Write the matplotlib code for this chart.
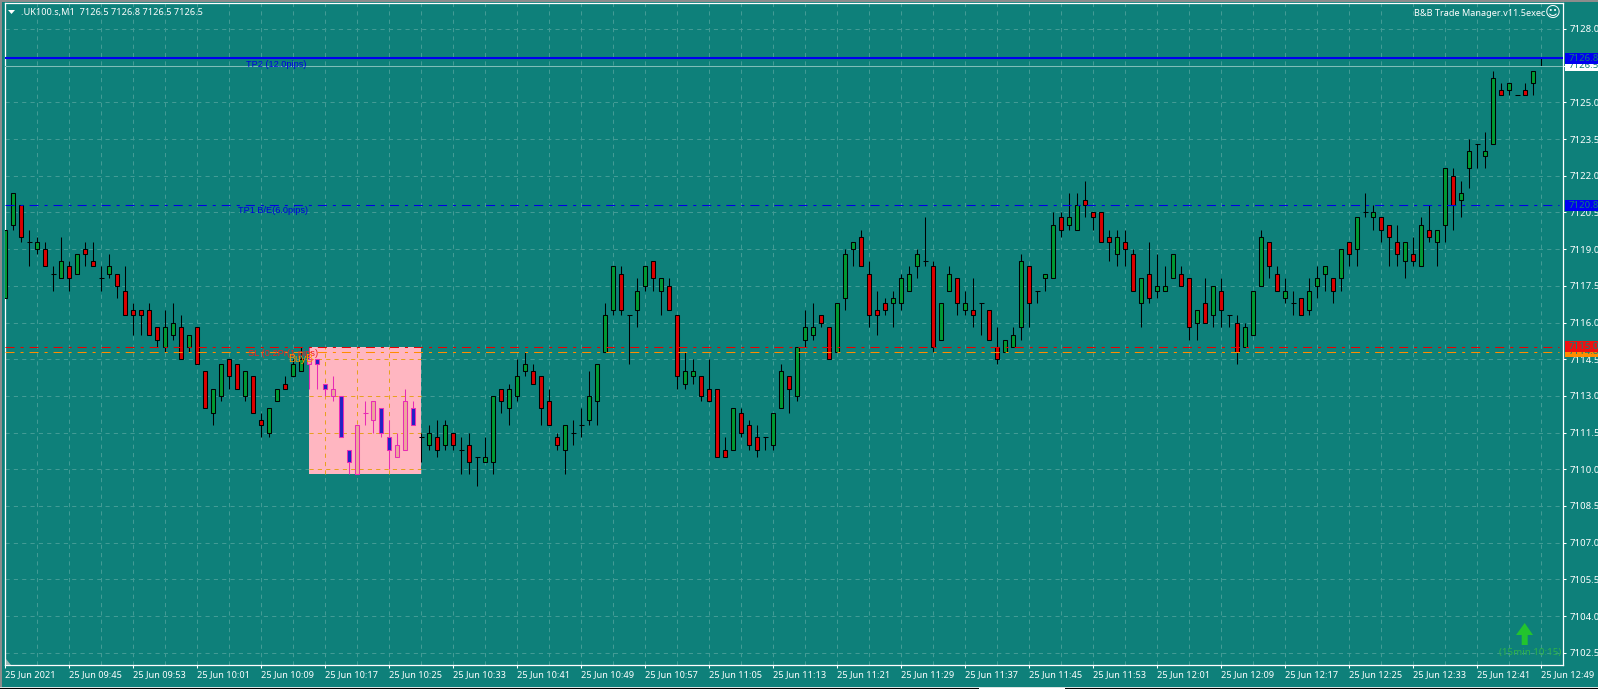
import matplotlib
matplotlib.use('Agg')
import matplotlib.pyplot as plt
from matplotlib.patches import Polygon, Rectangle

# candles, one per minute
opens = [7117.0,7120.0,7120.8,7119.3,7119.0,7119.0,7118.0,7117.8,7118.3,7118.0,7119.0,7118.5,7117.8,7118.0,7118.0,7117.3,
         7116.5,7116.5,7116.5,7115.8,7115.0,7115.5,7115.8,7115.0,7115.8,7114.0,7112.3,7113.0,7114.5,7114.3,7113.0,7113.8,
         7112.0,7111.5,7112.8,7113.5,7113.8,7114.0,7114.3,7114.5,7113.5,7113.0,7113.0,7110.8,7109.8,7112.3,7112.0,7112.5,
         7111.3,7110.5,7110.8,7112.5,7111.3,7111.0,7111.3,7111.0,7111.5,7110.8,7111.0,7110.5,7110.3,7110.3,7113.3,7112.5,
         7113.0,7114.0,7114.0,7113.8,7112.8,7111.3,7110.8,7111.5,7111.8,7112.0,7112.8,7114.8,7116.5,7118.0,7116.3,7116.5,
         7117.5,7118.5,7117.3,7117.5,7116.3,7113.5,7113.8,7113.8,7113.3,7113.3,7110.8,7110.8,7112.3,7111.8,7111.3,7111.3,
         7111.0,7112.5,7113.8,7113.0,7115.3,7115.5,7116.3,7115.8,7114.8,7117.0,7119.0,7119.5,7118.0,7116.5,7116.8,7116.8,
         7116.8,7117.3,7118.3,7118.5,7118.3,7115.3,7117.3,7117.8,7116.5,7116.5,7116.8,7116.5,7115.0,7114.8,7115.0,7115.8,
         7118.3,7117.3,7117.8,7117.8,7120.3,7120.0,7119.8,7121.0,7120.5,7120.5,7119.5,7118.8,7119.3,7118.8,7116.8,7118.0,
         7117.3,7117.3,7117.8,7118.0,7117.8,7116.0,7116.8,7116.3,7117.3,7116.3,7116.0,7115.0,7115.5,7117.5,7119.3,7118.0,
         7117.0,7116.8,7117.0,7116.5,7117.5,7118.0,7117.8,7117.8,7119.3,7119.0,7120.5,7120.3,7120.3,7120.0,7119.3,7118.5,
         7118.8,7118.3,7119.8,7119.3,7120.0,7122.0,7121.0,7122.3,7123.3,7122.8,7123.3,7125.5,7125.5,7125.3,7125.5,7125.8,
         7126.5]
highs = [7119.8,7121.3,7120.8,7119.8,7119.5,7119.3,7118.3,7119.5,7118.5,7118.8,7119.3,7119.3,7118.3,7118.8,7118.0,7118.3,
         7116.8,7116.5,7116.8,7115.8,7116.5,7116.8,7116.3,7115.5,7115.8,7114.0,7113.3,7114.3,7114.5,7114.3,7114.0,7113.8,
         7112.3,7112.5,7113.3,7113.8,7114.5,7115.0,7115.0,7114.5,7113.5,7113.8,7113.0,7110.8,7111.8,7112.8,7112.8,7112.5,
         7112.0,7111.5,7113.3,7112.8,7111.5,7111.8,7112.0,7112.0,7111.5,7111.3,7111.5,7110.5,7111.3,7113.0,7113.3,7113.5,
         7114.5,7114.8,7114.3,7113.8,7113.3,7111.5,7111.8,7112.0,7112.5,7114.0,7114.3,7116.8,7118.3,7118.3,7116.3,7117.8,
         7118.3,7118.5,7117.8,7117.8,7116.3,7114.8,7114.5,7113.8,7114.5,7113.3,7111.3,7112.5,7112.5,7112.0,7111.8,7111.3,
         7112.3,7114.3,7113.8,7115.0,7116.5,7116.8,7116.3,7115.8,7116.8,7119.0,7119.3,7119.8,7118.5,7117.3,7117.0,7117.3,
         7118.0,7118.3,7119.0,7120.3,7118.5,7116.8,7118.3,7117.8,7117.3,7117.8,7116.8,7116.5,7115.8,7115.3,7115.8,7118.8,
         7118.3,7117.3,7118.0,7120.5,7120.5,7121.3,7121.3,7121.8,7120.5,7120.5,7119.8,7119.8,7119.8,7119.0,7117.8,7119.3,
         7118.8,7118.3,7118.8,7118.3,7117.8,7116.5,7117.8,7117.5,7117.8,7116.3,7116.3,7116.0,7117.3,7119.8,7119.3,7118.3,
         7117.8,7117.3,7117.0,7117.8,7118.3,7118.3,7117.8,7119.0,7119.3,7120.3,7121.3,7120.8,7120.3,7120.0,7120.0,7119.3,
         7119.5,7120.3,7120.8,7119.8,7122.3,7122.3,7121.8,7123.5,7123.3,7123.8,7126.3,7125.8,7125.8,7125.3,7125.8,7126.3,
         7126.8]
lows = [7117.0,7119.8,7119.3,7118.3,7118.8,7118.3,7117.3,7117.8,7117.3,7118.0,7118.3,7118.3,7117.3,7117.8,7117.0,7116.3,
        7115.5,7115.5,7115.5,7115.0,7114.8,7115.3,7114.5,7114.8,7114.3,7112.5,7111.8,7112.8,7113.3,7113.3,7112.8,7112.3,
        7111.3,7111.3,7112.8,7113.3,7113.8,7114.0,7113.3,7113.3,7113.0,7112.8,7111.3,7109.8,7109.8,7111.8,7111.5,7111.3,
        7110.0,7110.5,7110.8,7111.8,7110.3,7110.8,7110.5,7110.8,7110.8,7109.8,7109.8,7109.3,7110.3,7109.8,7112.3,7111.8,
        7112.8,7113.8,7113.5,7111.8,7111.8,7110.8,7109.8,7111.0,7111.3,7111.8,7111.8,7114.8,7116.3,7116.3,7114.3,7115.8,
        7117.3,7117.3,7116.3,7116.5,7113.3,7113.3,7113.5,7112.8,7112.8,7110.5,7110.5,7110.8,7111.3,7110.8,7110.5,7110.8,
        7110.8,7112.5,7112.3,7112.8,7115.0,7115.3,7115.8,7114.5,7114.8,7116.5,7118.3,7118.3,7115.8,7115.5,7116.3,7115.8,
        7116.5,7117.3,7117.8,7118.3,7114.8,7115.3,7117.3,7116.3,7116.3,7115.8,7115.5,7115.3,7114.3,7114.8,7115.0,7115.3,
        7115.8,7116.8,7117.3,7117.8,7119.5,7119.8,7119.8,7120.3,7119.8,7119.3,7118.5,7118.3,7118.3,7117.3,7115.8,7116.8,
        7117.0,7117.3,7117.8,7117.5,7115.3,7115.3,7116.0,7115.8,7115.8,7115.8,7114.3,7115.0,7115.5,7117.5,7117.8,7117.3,
        7116.8,7116.3,7116.3,7116.3,7117.0,7117.3,7116.8,7117.3,7118.3,7118.3,7120.3,7119.8,7119.3,7118.3,7118.3,7117.8,
        7118.3,7118.3,7119.3,7118.3,7119.3,7119.8,7120.3,7121.5,7122.3,7122.3,7123.3,7125.3,7125.3,7125.3,7125.3,7125.3,
        7126.5]
closes = [7119.8,7121.3,7119.5,7119.3,7119.3,7118.3,7118.0,7118.5,7117.8,7118.8,7118.8,7118.3,7117.8,7118.3,7117.5,7116.3,
          7116.3,7116.3,7115.5,7115.3,7115.8,7116.0,7114.5,7115.5,7114.3,7112.5,7113.3,7114.3,7113.8,7113.3,7114.0,7112.3,
          7111.8,7112.5,7113.3,7113.3,7114.3,7114.5,7114.5,7114.3,7113.3,7113.3,7111.3,7110.3,7111.8,7112.3,7112.8,7111.5,
          7110.8,7111.0,7112.8,7111.8,7111.3,7111.5,7110.8,7111.8,7111.0,7110.8,7110.3,7110.5,7110.5,7113.0,7112.8,7113.3,
          7113.8,7114.3,7113.5,7112.5,7111.8,7111.0,7111.8,7111.5,7111.8,7113.0,7114.3,7116.3,7118.3,7116.5,7116.3,7117.3,
          7118.3,7117.8,7117.8,7116.5,7113.8,7114.0,7114.0,7113.0,7112.8,7110.5,7110.5,7112.5,7111.5,7111.0,7110.8,7111.3,
          7112.3,7114.0,7113.3,7115.0,7115.8,7115.8,7116.0,7114.5,7116.8,7118.8,7119.3,7118.3,7116.3,7116.3,7116.5,7117.0,
          7117.8,7118.0,7118.8,7118.5,7115.0,7116.8,7118.0,7116.8,7116.8,7116.3,7116.8,7115.3,7114.5,7115.3,7115.5,7118.5,
          7116.8,7117.3,7118.0,7120.0,7119.8,7120.3,7120.8,7120.8,7120.3,7119.3,7119.3,7119.5,7119.0,7117.3,7117.8,7117.0,
          7117.5,7117.5,7118.8,7117.5,7115.8,7116.5,7116.0,7117.5,7116.5,7116.3,7114.8,7115.8,7117.3,7119.5,7118.3,7117.3,
          7117.3,7116.8,7116.3,7117.3,7117.8,7118.3,7117.3,7119.0,7118.8,7120.3,7120.5,7120.5,7119.8,7119.5,7118.8,7119.3,
          7118.5,7120.0,7119.5,7119.8,7122.3,7120.8,7121.3,7123.0,7123.3,7123.0,7126.0,7125.3,7125.8,7125.3,7125.3,7126.3,
          7126.5]

time_labels = ['25 Jun 2021', '25 Jun 09:45', '25 Jun 09:53', '25 Jun 10:01', '25 Jun 10:09', '25 Jun 10:17',
               '25 Jun 10:25', '25 Jun 10:33', '25 Jun 10:41', '25 Jun 10:49', '25 Jun 10:57', '25 Jun 11:05',
               '25 Jun 11:13', '25 Jun 11:21', '25 Jun 11:29', '25 Jun 11:37', '25 Jun 11:45', '25 Jun 11:53',
               '25 Jun 12:01', '25 Jun 12:09', '25 Jun 12:17', '25 Jun 12:25', '25 Jun 12:33', '25 Jun 12:41',
               '25 Jun 12:49']
price_ticks = [7102.5, 7104.0, 7105.5, 7107.0, 7108.5, 7110.0, 7111.5, 7113.0, 7114.5, 7116.0, 7117.5, 7119.0,
               7120.5, 7122.0, 7123.5, 7125.0, 7126.5, 7128.0]

tp2_price = 7126.8
bid_price = 7126.5
tp1_price = 7120.8
sl_price = 7115.0
buy_price = 7114.8
zone_start, zone_end = 38, 52
zone_low, zone_high = 7109.8, 7115.0

BG = '#0e807a'
GRID = '#429b95'
GREEN = '#009a33'
RED = '#dc0000'
PINK = '#ffb6c1'
MAGENTA = '#e82cb4'
TAN = '#eda79a'
BLUE = '#2222c4'
ORANGE = '#ff8c00'

plt.rcParams['font.family'] = 'Noto Sans'
plt.rcParams['lines.scale_dashes'] = False

W, H = 1598, 689
fig = plt.figure(figsize=(W / 100, H / 100), dpi=100, facecolor=BG)
ax = fig.add_axes([5 / W, (H - 665) / H, (1563 - 5) / W, (665 - 3) / H], facecolor=BG)

xs = list(range(len(opens)))
ax.set_xlim(-0.04, 194.71)
ax.set_ylim(7102.0, 7129.06)

# grid sits under everything
grid_style = dict(color=GRID, lw=0.72, ls=(0, (3, 3)), zorder=1)
for p in price_ticks:
    ax.axhline(p, **grid_style)
for i in range(4, 196, 4):
    ax.axvline(i, **grid_style)

# highlighted zone, the terminal inverts whatever is drawn under it
ax.add_patch(Rectangle((zone_start, zone_low), zone_end - zone_start, zone_high - zone_low,
                       facecolor=PINK, edgecolor='none', zorder=2))
for p in price_ticks:
    if zone_low < p < zone_high:
        ax.hlines(p, zone_start, zone_end, color='#e8a020', lw=0.72, ls=(0, (3, 3)), zorder=2.5)
for i in range(zone_start + 2, zone_end, 4):
    ax.vlines(i, zone_low, zone_high, color='#e8a020', lw=0.72, ls=(0, (3, 3)), zorder=2.5)

# candles
for i, o, h, l, c in zip(xs, opens, highs, lows, closes):
    inside = zone_start <= i < zone_end
    edge = MAGENTA if inside else 'black'
    if c > o:
        face = TAN if inside else GREEN
    else:
        face = BLUE if inside else RED
    ax.vlines(i, l, h, color=edge, lw=0.75, zorder=3)
    if o == c:
        ax.hlines(o, i - 0.31, i + 0.31, color=edge, lw=0.75, zorder=3)
    else:
        ax.bar(i, abs(c - o), bottom=min(o, c), width=0.5, facecolor=face, edgecolor=edge, linewidth=0.75, zorder=4)

# trade levels
dash = (0, (6.5, 4.3, 2.2, 4.3))
right_end = 194.2
ax.plot([-0.04, right_end], [tp1_price] * 2, color='#0000e6', lw=0.75, ls=dash, zorder=5)
ax.plot([-0.04, right_end], [sl_price] * 2, color='#e60000', lw=0.75, ls=dash, zorder=5)
ax.plot([-0.04, right_end], [buy_price] * 2, color=ORANGE, lw=0.75, ls=dash, zorder=5)
ax.axhline(bid_price, color='#7fbdb8', lw=0.75, zorder=5)
ax.axhline(tp2_price, color='#0000f0', lw=1.5, zorder=6)

label_font = 'Liberation Sans'
ax.text(30.1, 7126.56, 'TP2 (12.0pips)', color='#0000e0', fontsize=6.6, va='center', zorder=7, family=label_font)
ax.text(29.1, 7120.57, 'TP1 B/E(6.0pips)', color='#0000e0', fontsize=6.6, va='center', zorder=7, family=label_font)
ax.text(30.3, 7114.75, 'SL (0.2Pr(1 pips)', color='#f02020', fontsize=6.7, va='center', zorder=7, family=label_font)
ax.text(35.3, 7114.5, 'BuyB', color=ORANGE, fontsize=7.6, va='center', zorder=7, family=label_font)

# axes
for spine in ax.spines.values():
    spine.set_color('white')
    spine.set_linewidth(0.9)
ax.yaxis.tick_right()
ax.set_yticks(price_ticks)
ax.set_yticklabels([f'{p:.1f}' for p in price_ticks])
ax.set_xticks(xs[::8])
ax.set_xticklabels(time_labels, ha='left')
ax.tick_params(axis='y', colors='white', length=2.2, width=0.75, pad=2.2, labelsize=6.9)
ax.tick_params(axis='x', colors='white', length=2.2, width=0.75, pad=1.5, labelsize=6.6)

# coloured price flags on the right axis
flag_tf = ax.get_yaxis_transform()
flags = [(bid_price, 'white'), (buy_price, ORANGE), (tp1_price, '#0000f0'), (sl_price, '#f01010'), (tp2_price, '#0000f0')]
for n, (price, colour) in enumerate(flags):
    ax.add_patch(Rectangle((1 + 2 / 1558, price - 0.225), 35 / 1558, 0.45, facecolor=colour, edgecolor='none',
                           transform=flag_tf, clip_on=False, zorder=8 + n))
    ax.text(1 + 6 / 1558, price, f'{price:.1f}', transform=flag_tf, va='center', ha='left', fontsize=6.9,
            color=BG, clip_on=False, zorder=8 + n)

# header and footer texts
fig.text(21 / W, 1 - 12.5 / H, '.UK100.s,M1  7126.5 7126.8 7126.5 7126.5', color='white', fontsize=6.6, va='center')
fig.add_artist(Polygon([[8 / W, 1 - 10 / H], [15 / W, 1 - 10 / H], [11.5 / W, 1 - 14 / H]], closed=True,
                       facecolor='white', edgecolor='none', transform=fig.transFigure))
fig.text(1545 / W, 1 - 13 / H, 'B&B Trade Manager.v11.5exec', color='white', fontsize=6.55, va='center', ha='right')
fig.text(1552.5 / W, 1 - 13 / H, '\u263a', color='white', fontsize=11, va='center', ha='center',
         family='DejaVu Sans')
fig.text(1530.5 / W, 1 - 653 / H, '(15min 10:15)', color='#2fb24a', fontsize=7, va='center', ha='center')

# signal arrow
arrow = [[1524.7, 623], [1533, 635], [1527.7, 635], [1527.7, 645], [1521.7, 645], [1521.7, 635], [1516, 635]]
fig.add_artist(Polygon([[x / W, 1 - y / H] for x, y in arrow], closed=True, facecolor='#22c42e',
                       edgecolor='none', transform=fig.transFigure))

# small corner marker and the window edges
fig.add_artist(Polygon([[5.5 / W, 1 - 659 / H], [5.5 / W, 1 - 664.5 / H], [11 / W, 1 - 664.5 / H]], closed=True,
                       facecolor='#9fbcb9', edgecolor='none', transform=fig.transFigure))
fig.add_artist(Rectangle((0, 0), 2 / W, 1, facecolor='#8c8c8c', edgecolor='none', transform=fig.transFigure))
fig.add_artist(Rectangle((0, 1 - 1.5 / H), 1, 1.5 / H, facecolor='#8c8c8c', edgecolor='none', transform=fig.transFigure))
fig.add_artist(Rectangle((0, 1 / H), 1, 1.5 / H, facecolor='#d8e4e3', edgecolor='none', transform=fig.transFigure))
fig.add_artist(Rectangle((0, 0), 1, 1 / H, facecolor='black', edgecolor='none', transform=fig.transFigure))
fig.add_artist(Rectangle((979 / W, 0), 86 / W, 1 / H, facecolor='white', edgecolor='none', transform=fig.transFigure))

fig.savefig('out.png', dpi=100, facecolor=BG)
